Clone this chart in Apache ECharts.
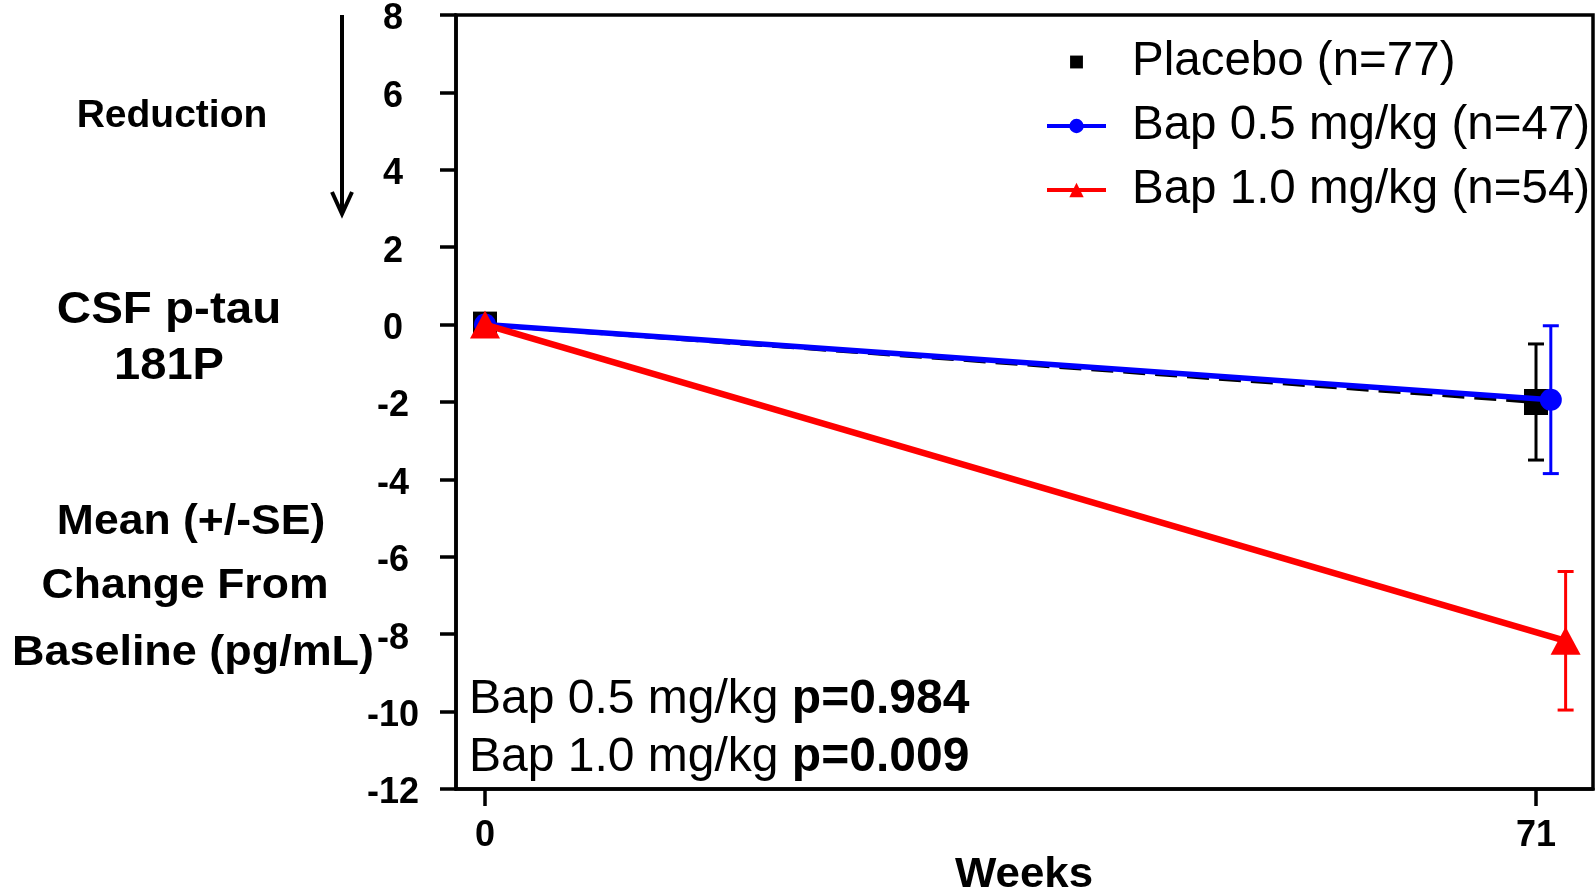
<!DOCTYPE html>
<html>
<head>
<meta charset="utf-8">
<script src="https://cdn.jsdelivr.net/npm/echarts@6/dist/echarts.min.js"></script>
<style>
html,body{margin:0;padding:0;background:#fff;overflow:hidden;}
#chart{width:1596px;height:891px;}
</style>
</head>
<body>
<div id="chart"></div>
<script>
// ---- data ----
const seriesNames = ['Placebo (n=77)', 'Bap 0.5 mg/kg (n=47)', 'Bap 1.0 mg/kg (n=54)'];
const weeks = [0, 71];
const placeboMean = [0, -2.0];
const placeboSE = [0, 1.5];
const bap05Mean = [0, -1.94];
const bap05SE = [0, 1.91];
const bap10Mean = [0, -8.17];
const bap10SE = [0, 1.79];
const xTickValues = [0, 71];
const pValueLabels = ['Bap 0.5 mg/kg ', 'Bap 1.0 mg/kg '];
const pValues = ['p=0.984', 'p=0.009'];

// horizontal dodge (weeks) applied at the last visit so bars do not overlap
const dodge = [0, 1, 2];

function pts(mean, se, off) {
  return weeks.map((w, i) => [w + (i > 0 ? off : 0), mean[i], se[i]]);
}
const placeboPts = pts(placeboMean, placeboSE, dodge[0]);
const bap05Pts = pts(bap05Mean, bap05SE, dodge[1]);
const bap10Pts = pts(bap10Mean, bap10SE, dodge[2]);

const FONT = 'Liberation Sans';

function errSeries(points, color, z) {
  return {
    type: 'custom',
    z: z,
    silent: true,
    data: points.filter(p => p[2] > 0),
    renderItem: function (params, api) {
      const x = api.value(0), y = api.value(1), se = api.value(2);
      const top = api.coord([x, y + se]);
      const bot = api.coord([x, y - se]);
      const hw = 8;
      const st = { stroke: color, lineWidth: 3 };
      return {
        type: 'group',
        children: [
          { type: 'line', shape: { x1: top[0], y1: top[1], x2: bot[0], y2: bot[1] }, style: st },
          { type: 'line', shape: { x1: top[0] - hw, y1: top[1], x2: top[0] + hw, y2: top[1] }, style: st },
          { type: 'line', shape: { x1: bot[0] - hw, y1: bot[1], x2: bot[0] + hw, y2: bot[1] }, style: st }
        ]
      };
    }
  };
}

function boldText(text, x, y, size, sx) {
  return {
    type: 'text', x: x, y: y, scaleX: sx, scaleY: 1,
    style: { text: text, fontFamily: FONT, fontWeight: 'bold', fontSize: size, fill: '#000', align: 'center', verticalAlign: 'middle' }
  };
}

const chart = echarts.init(document.getElementById('chart'), null, { renderer: 'canvas' });

const option = {
  animation: false,
  backgroundColor: '#fff',
  grid: {
    left: 456, top: 15, width: 1137, height: 774,
    outerBoundsMode: 'none',
    containLabel: false,
    show: true, borderColor: '#000', borderWidth: 3.5, backgroundColor: 'transparent'
  },
  xAxis: {
    type: 'value',
    min: -1.96, max: 74.85,
    axisLine: { show: true, onZero: false, lineStyle: { color: '#000', width: 3.5 } },
    axisTick: { show: true, length: 17, customValues: xTickValues, lineStyle: { color: '#000', width: 3.5 } },
    axisLabel: { customValues: xTickValues, margin: 29, fontFamily: FONT, fontWeight: 'bold', fontSize: 36, color: '#000' },
    splitLine: { show: false }
  },
  yAxis: {
    type: 'value',
    min: -12, max: 8, interval: 2,
    axisLine: { show: true, onZero: false, lineStyle: { color: '#000', width: 3.5 } },
    axisTick: { show: true, length: 16, lineStyle: { color: '#000', width: 3.5 } },
    axisLabel: { margin: 63, align: 'center', verticalAlign: 'top', lineHeight: 9, fontFamily: FONT, fontWeight: 'bold', fontSize: 36, color: '#000' },
    splitLine: { show: false }
  },
  legend: {
    orient: 'vertical',
    left: 1045, top: 38,
    padding: 0,
    itemGap: 16,
    itemWidth: 59, itemHeight: 18,
    selectedMode: false,
    textStyle: { fontFamily: FONT, fontSize: 47.5, color: '#000', lineHeight: 48, padding: [0, 0, 0, 21] },
    data: [
      { name: seriesNames[0], icon: 'path://M-2 -2M0 0H10V10H0ZM12 12' },
      { name: seriesNames[1], lineStyle: { width: 4 } },
      { name: seriesNames[2], lineStyle: { width: 4 } }
    ]
  },
  series: [
    errSeries(placeboPts, '#000', 1),
    errSeries(bap05Pts, '#0000ff', 1),
    errSeries(bap10Pts, '#ff0000', 1),
    {
      name: seriesNames[0], type: 'line', z: 2,
      data: placeboPts.map(p => [p[0], p[1]]),
      symbol: 'rect', symbolSize: [24, 26],
      lineStyle: { color: '#000', width: 4, type: [22, 10] },
      itemStyle: { color: '#000' }
    },
    {
      name: seriesNames[1], type: 'line', z: 3,
      data: bap05Pts.map(p => [p[0], p[1]]),
      symbol: 'circle', symbolSize: 22,
      lineStyle: { color: '#0000ff', width: 5.5 },
      itemStyle: { color: '#0000ff' }
    },
    {
      name: seriesNames[2], type: 'line', z: 4,
      data: bap10Pts.map(p => [p[0], p[1]]),
      symbol: 'triangle', symbolSize: [30, 28],
      lineStyle: { color: '#ff0000', width: 6.5 },
      itemStyle: { color: '#ff0000' }
    }
  ],
  graphic: [
    // left titles
    boldText('Reduction', 172, 116, 39, 1.0),
    boldText('CSF p-tau', 169, 311, 44, 1.08),
    boldText('181P', 169, 367, 44, 1.07),
    boldText('Mean (+/-SE)', 191, 522, 42, 1.06),
    boldText('Change From', 185, 586, 42, 1.06),
    boldText('Baseline (pg/mL)', 193, 653, 42, 1.07),
    boldText('Weeks', 1024, 875, 43, 1.02),
    // arrow
    { type: 'line', shape: { x1: 342, y1: 15, x2: 342, y2: 212 }, style: { stroke: '#000', lineWidth: 4 } },
    { type: 'polyline', shape: { points: [[332, 192], [342, 214], [352, 192]] }, style: { stroke: '#000', lineWidth: 4, fill: null } },
    // p-values
    { type: 'text', x: 469, y: 700, z: 10, style: {
        text: '{n|' + pValueLabels[0] + '}{b|' + pValues[0] + '}', verticalAlign: 'middle', align: 'left',
        rich: { n: { fontFamily: FONT, fontSize: 48, fill: '#000' }, b: { fontFamily: FONT, fontWeight: 'bold', fontSize: 48, fill: '#000' } } } },
    { type: 'text', x: 469, y: 758, z: 10, style: {
        text: '{n|' + pValueLabels[1] + '}{b|' + pValues[1] + '}', verticalAlign: 'middle', align: 'left',
        rich: { n: { fontFamily: FONT, fontSize: 48, fill: '#000' }, b: { fontFamily: FONT, fontWeight: 'bold', fontSize: 48, fill: '#000' } } } }
  ]
};
chart.setOption(option);
</script>
</body>
</html>
